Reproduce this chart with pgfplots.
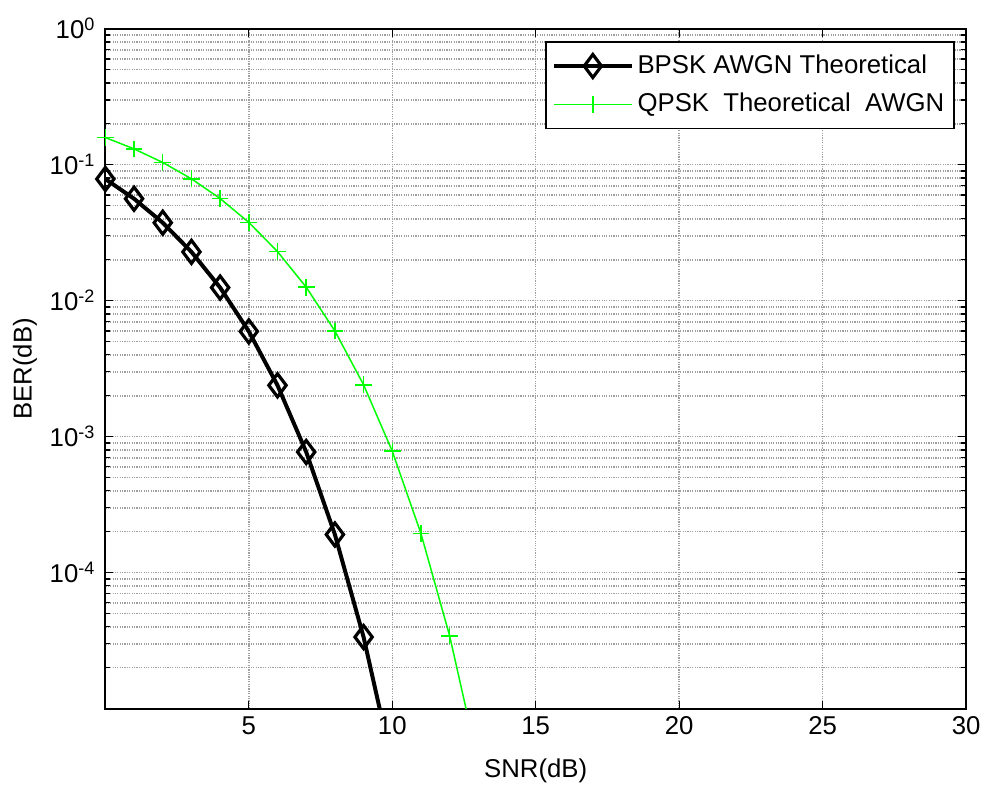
\documentclass[border=0pt]{standalone}
\usepackage{fontspec}
\setmainfont{Liberation Sans}
\usepackage{pgfplots}
\pgfplotsset{compat=1.18}
\definecolor{mgreen}{RGB}{0,255,0}

\begin{document}
\fontsize{13}{15.6}\selectfont
\begin{tikzpicture}
\begin{axis}[
  name=ax,
  scale only axis,
  width=433bp, height=342bp,
  ymode=log,
  xmin=0, xmax=30,
  ymin=1e-5, ymax=1,
  xtick={0,5,10,15,20,25,30},
  xticklabels={,5,10,15,20,25,30},
  ytick={1e-5,1e-4,1e-3,1e-2,1e-1,1},
  yticklabels={,10\textsuperscript{-4},10\textsuperscript{-3},10\textsuperscript{-2},10\textsuperscript{-1},10\textsuperscript{0}},
  minor ytick={2e-5,3e-5,4e-5,5e-5,6e-5,7e-5,8e-5,9e-5,
               2e-4,3e-4,4e-4,5e-4,6e-4,7e-4,8e-4,9e-4,
               2e-3,3e-3,4e-3,5e-3,6e-3,7e-3,8e-3,9e-3,
               2e-2,3e-2,4e-2,5e-2,6e-2,7e-2,8e-2,9e-2,
               2e-1,3e-1,4e-1,5e-1,6e-1,7e-1,8e-1,9e-1},
  /pgf/number format/assume math mode=true,
  tick align=inside,
  major tick length=4bp,
  minor tick length=2.5bp,
  tick style={black, line width=0.6bp},
  axis line style={black, line width=1bp},
  grid=both,
  major grid style={gray!75, line width=0.7bp, dash pattern=on 0.6bp off 0.6bp},
  minor grid style={gray!75, line width=0.7bp, dash pattern=on 0.6bp off 0.6bp},
  xticklabel style={anchor=center, yshift=-8.5bp},
  yticklabel style={anchor=base east, yshift=-5bp, xshift=-0.5bp},
  xlabel={SNR(dB)},
  ylabel={BER(dB)},
  xlabel style={at={(axis description cs:0.5,-0.092)}, anchor=center},
  ylabel style={at={(axis description cs:-0.0935,0.5)}, anchor=center},
  legend style={at={(rel axis cs:0.987,0.982)}, anchor=north east,
    draw=black, line width=0.8bp, fill=white,
    inner xsep=3bp, inner ysep=4.5bp,
    row sep=4bp,
    font=\fontsize{13}{15.6}\selectfont,
    cells={anchor=west}},
  legend image code/.code={%
    \draw[mark repeat=2, mark phase=2, #1] plot coordinates {(0bp,0bp) (19.5bp,0bp) (39bp,0bp)};},
]
\addplot[black, line width=2bp, mark=diamond, mark size=5.8bp,
  mark options={solid, line width=1.6bp, fill=none}] coordinates {
  (0,0.07865) (1,0.05628) (2,0.03751) (3,0.02288) (4,0.01250)
  (5,0.005954) (6,0.002388) (7,0.0007727) (8,0.0001909)
  (9,3.363e-5) (10,3.872e-6)
};
\addlegendentry{BPSK AWGN Theoretical}
\addplot[mgreen, line width=0.75bp, mark=+, mark size=4.2bp,
  mark options={solid, line width=0.75bp}] coordinates {
  (0,0.1587) (1,0.1309) (2,0.1040) (3,0.0789) (4,0.0565)
  (5,0.0377) (6,0.0230) (7,0.01259) (8,0.00600) (9,0.00241)
  (10,0.000783) (11,0.000194) (12,3.43e-5) (13,3.97e-6)
};
\addlegendentry{QPSK\ \ Theoretical\ \ AWGN}
\end{axis}
\path (ax.south west) ++(-53bp,-37bp) rectangle ([shift={(8.5bp,14.5bp)}]ax.north east);
\end{tikzpicture}
\end{document}
